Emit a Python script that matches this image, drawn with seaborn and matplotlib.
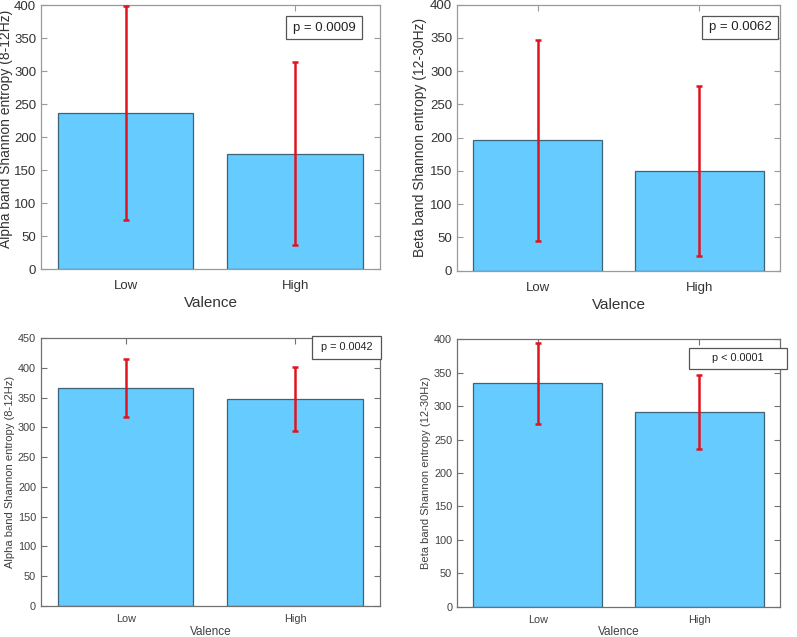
import numpy as np
import pandas as pd
import matplotlib
matplotlib.use("Agg")
import matplotlib.pyplot as plt
import seaborn as sns
from matplotlib.patches import Rectangle

sns.set_style("white")
plt.rcParams['font.family'] = ['Liberation Sans', 'DejaVu Sans']

groups = ["Low", "High"]

# mean and std for each panel
alpha_top = [236, 175]
alpha_top_err = [162, 138]
beta_top = [196, 150]
beta_top_err = [151, 128]
alpha_bot = [366, 348]
alpha_bot_err = [49, 54]
beta_bot = [334, 291]
beta_bot_err = [61, 55]

pvals = ["p = 0.0009", "p = 0.0062", "p = 0.0042", "p < 0.0001"]
ylabels = ["Alpha band Shannon entropy (8-12Hz)", "Beta band Shannon entropy (12-30Hz)",
           "Alpha band Shannon entropy (8-12Hz)", "Beta band Shannon entropy (12-30Hz)"]

panels = [
    # data, err, ymax, axes rect, pbox (x0, y0, x1, y1) in axes coords, big text?
    (alpha_top, alpha_top_err, 400, [0.0514, 0.5777, 0.4253, 0.4144], (0.723, 0.871, 0.947, 0.958), True),
    (beta_top, beta_top_err, 400, [0.5734, 0.5750, 0.4053, 0.4176], (0.759, 0.871, 0.994, 0.958), True),
    (alpha_bot, alpha_bot_err, 450, [0.0514, 0.0487, 0.4253, 0.4203], (0.799, 0.922, 1.003, 1.010), False),
    (beta_bot, beta_bot_err, 400, [0.5734, 0.0476, 0.4053, 0.4198], (0.717, 0.889, 1.021, 0.969), False),
]

fig = plt.figure(figsize=(7.97, 6.37), dpi=100)

for i, (vals, errs, ymax, rect, pbox, big) in enumerate(panels):
    ax = fig.add_axes(rect)
    df = pd.DataFrame({"Valence": groups, "value": vals})
    spine_c = "#9a9a9a" if big else "#707070"
    text_c = "#333333" if big else "#404040"
    tick_fs = 9.5 if big else 7.8
    lab_fs = 10 if big else 8
    xlab_fs = 11 if big else 8.5
    p_fs = 9.5 if big else 7.8

    sns.barplot(data=df, x="Valence", y="value", color="#66CCFF", saturation=1,
                edgecolor="#3b6478", linewidth=0.9, width=0.8, errorbar=None, ax=ax)
    ax.errorbar(x=[0, 1], y=vals, yerr=errs, fmt="none", ecolor="#e0141e",
                elinewidth=1.8, capsize=2.5, capthick=1.8, zorder=5)

    ax.set_xlim(-0.5, 1.5)
    ax.set_ylim(0, ymax)
    ax.set_yticks(np.arange(0, ymax + 1, 50))
    ax.set_xlabel("Valence", fontsize=xlab_fs, color=text_c, labelpad=3 if big else 1)
    ax.set_ylabel(ylabels[i], fontsize=lab_fs, color=text_c, labelpad=2)
    ax.tick_params(direction="in", length=4, width=0.8, colors=spine_c,
                   labelcolor=text_c, labelsize=tick_fs, top=True, right=True,
                   left=True, bottom=True)
    ax.tick_params(axis="x", pad=8 if big else 6)
    if i == 0:
        ax.yaxis.set_label_coords(-0.083, 0.53)
    for s in ax.spines.values():
        s.set_color(spine_c)
        s.set_linewidth(0.9)
        s.set_visible(True)

    x0, y0, x1, y1 = pbox
    ax.add_patch(Rectangle((x0, y0), x1 - x0, y1 - y0, transform=ax.transAxes,
                           facecolor="white", edgecolor="#555555", linewidth=0.9,
                           clip_on=False, zorder=6))
    ax.text((x0 + x1) / 2, (y0 + y1) / 2, pvals[i], transform=ax.transAxes,
            ha="center", va="center", fontsize=p_fs, color="#222222", zorder=7)

fig.savefig("out.png", dpi=100)
